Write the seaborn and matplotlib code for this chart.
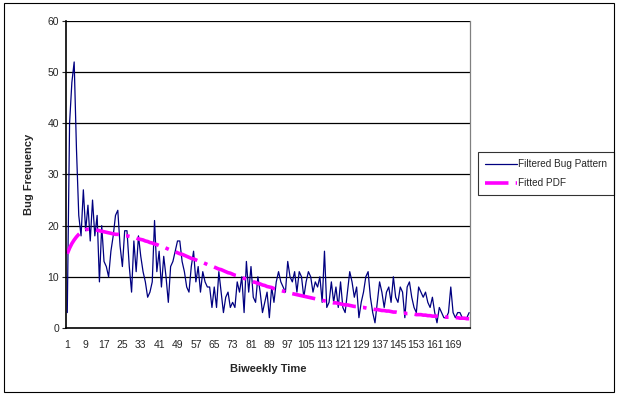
import matplotlib
matplotlib.use("Agg")
import matplotlib.pyplot as plt
import numpy as np
import pandas as pd
import seaborn as sns
from matplotlib.patches import Rectangle
from matplotlib.ticker import FixedLocator

# 观测到的双周 bug 数（过滤后）
bug_pattern = [
    3, 40, 48, 52, 35, 22, 18, 27, 19, 24,
    17, 25, 18, 22, 9, 20, 13, 12, 10, 15,
    18, 22, 23, 16, 12, 19, 19, 12, 7, 17,
    11, 18, 14, 11, 9, 6, 7, 9, 21, 11,
    15, 8, 14, 10, 5, 12, 13, 15, 17, 17,
    13, 11, 8, 7, 12, 15, 9, 12, 7, 11,
    9, 8, 8, 4, 8, 4, 11, 7, 3, 6,
    7, 4, 5, 4, 9, 7, 10, 3, 13, 7,
    12, 6, 5, 10, 7, 3, 5, 7, 2, 8,
    5, 9, 11, 9, 8, 7, 13, 10, 9, 11,
    7, 11, 10, 6, 9, 11, 10, 7, 9, 8,
    10, 5, 15, 4, 5, 9, 5, 8, 4, 9,
    4, 3, 7, 11, 9, 6, 8, 2, 5, 7,
    10, 11, 6, 3, 1, 5, 9, 7, 4, 7,
    8, 5, 10, 6, 5, 8, 7, 2, 8, 9,
    6, 4, 3, 8, 7, 6, 7, 5, 4, 6,
    3, 1, 4, 3, 2, 2, 3, 8, 3, 2,
    3, 3, 2, 2, 2, 3,
]

# 拟合的概率密度曲线
fitted_pdf = [
    14.5, 15.6, 16.5, 17.2, 17.8, 18.3, 18.7, 19.0, 19.2, 19.3,
    19.3, 19.3, 19.2, 19.1, 19.0, 18.9, 18.8, 18.7, 18.6, 18.5,
    18.4, 18.3, 18.3, 18.2, 18.1, 18.0, 18.0, 17.9, 17.8, 17.7,
    17.6, 17.4, 17.3, 17.2, 17.0, 16.9, 16.7, 16.6, 16.4, 16.3,
    16.1, 15.9, 15.8, 15.6, 15.4, 15.2, 15.1, 14.9, 14.7, 14.5,
    14.4, 14.2, 14.0, 13.8, 13.6, 13.5, 13.3, 13.1, 12.9, 12.8,
    12.6, 12.4, 12.2, 12.1, 11.9, 11.7, 11.5, 11.4, 11.2, 11.0,
    10.8, 10.7, 10.5, 10.3, 10.2, 10.0, 9.8, 9.7, 9.5, 9.3,
    9.2, 9.0, 8.9, 8.7, 8.6, 8.4, 8.3, 8.1, 8.0, 7.9,
    7.7, 7.6, 7.5, 7.3, 7.2, 7.1, 7.0, 6.8, 6.7, 6.6,
    6.5, 6.4, 6.3, 6.2, 6.1, 6.0, 5.9, 5.8, 5.7, 5.6,
    5.5, 5.4, 5.3, 5.2, 5.1, 5.0, 4.9, 4.9, 4.8, 4.7,
    4.6, 4.5, 4.5, 4.4, 4.3, 4.2, 4.2, 4.1, 4.0, 4.0,
    3.9, 3.8, 3.8, 3.7, 3.6, 3.6, 3.5, 3.4, 3.4, 3.3,
    3.3, 3.2, 3.1, 3.1, 3.0, 3.0, 2.9, 2.9, 2.8, 2.8,
    2.7, 2.7, 2.6, 2.6, 2.6, 2.5, 2.5, 2.4, 2.4, 2.3,
    2.3, 2.3, 2.2, 2.2, 2.2, 2.1, 2.1, 2.1, 2.0, 2.0,
    2.0, 1.9, 1.9, 1.9, 1.8, 1.8,
]

time_idx = list(range(1, len(bug_pattern) + 1))
tick_labels = [str(t) for t in range(1, 170, 8)]

sns.set_style("white")
plt.rcParams["font.family"] = ["Liberation Sans", "DejaVu Sans"]

df = pd.DataFrame({"Biweekly Time": time_idx,
                   "Filtered Bug Pattern": bug_pattern,
                   "Fitted PDF": fitted_pdf})

fig = plt.figure(figsize=(6.18, 3.97), dpi=100)
ax = fig.add_axes([0.107, 0.174, 0.654, 0.773])

# 网格线
for v in range(10, 61, 10):
    ax.axhline(v, color="black", lw=0.9, zorder=0)

sns.lineplot(data=df, x="Biweekly Time", y="Filtered Bug Pattern", ax=ax,
             color="#000080", lw=0.9, label="Filtered Bug Pattern")
sns.lineplot(data=df, x="Biweekly Time", y="Fitted PDF", ax=ax,
             color="#FF00FF", lw=2.6, label="Fitted PDF",
             dashes=False)
ax.lines[-1].set_dashes([6.5, 2, 1, 2])

ax.set_xlim(0.5, len(bug_pattern) + 0.5)
ax.set_ylim(0, 60)
ax.set_yticks(range(0, 61, 10))
ax.set_xticks(range(1, 170, 8))
ax.set_xticklabels(tick_labels)
ax.xaxis.set_minor_locator(FixedLocator(np.arange(0.5, len(bug_pattern) + 1, 1)))
ax.tick_params(axis="x", which="major", length=0, pad=9, labelsize=7.5)
ax.tick_params(axis="x", which="minor", length=3, width=0.6, direction="out", color="black")
ax.tick_params(axis="y", which="major", length=3, width=0.8, direction="out",
               labelsize=7.5, pad=2, left=True)

ax.set_xlabel("Biweekly Time", fontsize=8, fontweight="bold", labelpad=10)
ax.set_ylabel("Bug Frequency", fontsize=8, fontweight="bold", labelpad=10)

for side in ["left", "bottom"]:
    ax.spines[side].set_color("black")
    ax.spines[side].set_linewidth(1.2)
for side in ["right", "top"]:
    ax.spines[side].set_color("#808080")
    ax.spines[side].set_linewidth(0.9)
ax.spines["top"].set_visible(False)

leg = ax.legend(loc="upper left", bbox_to_anchor=(0.774, 0.616),
                bbox_transform=fig.transFigure, fontsize=7.2, frameon=True,
                fancybox=False, borderpad=0.7, handlelength=3.2,
                handletextpad=0.1, labelspacing=0.9, borderaxespad=0)
leg.get_frame().set_edgecolor("black")
leg.get_frame().set_linewidth(0.8)

# 外框
fig.patches.append(Rectangle((0.006, 0.012), 0.988, 0.98, transform=fig.transFigure,
                             fill=False, edgecolor="black", lw=0.8))

fig.savefig("out.png", dpi=100)
